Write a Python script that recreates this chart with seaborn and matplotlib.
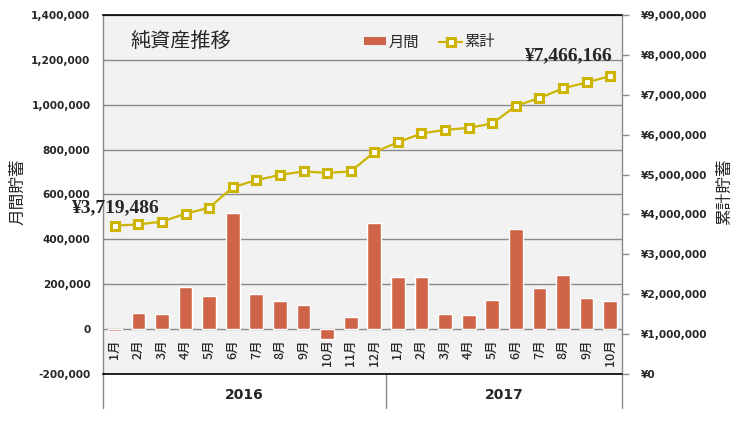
import numpy as np
import pandas as pd
import matplotlib
matplotlib.use('Agg')
import matplotlib.pyplot as plt
import seaborn as sns
from matplotlib.patches import Patch
from matplotlib.lines import Line2D
from matplotlib.ticker import FuncFormatter
import matplotlib.transforms as mtransforms

# ---- data ----
years = ['2016'] * 12 + ['2017'] * 10
months = ['1月', '2月', '3月', '4月', '5月', '6月', '7月', '8月', '9月', '10月', '11月', '12月',
          '1月', '2月', '3月', '4月', '5月', '6月', '7月', '8月', '9月', '10月']
monthly = [-8000, 71000, 67000, 187000, 147000, 517000, 156000, 125000, 107000, -45000, 53000, 472000,
           232000, 232000, 67000, 62000, 129000, 446000, 183000, 241000, 138000, 124000]
cumulative = [3719486, 3750000, 3820000, 4020000, 4170000, 4680000, 4860000, 4990000, 5080000, 5040000,
              5080000, 5560000, 5810000, 6030000, 6120000, 6170000, 6280000, 6720000, 6920000, 7160000,
              7310000, 7466166]
year_labels = ['2016', '2017']
title = '純資産推移'
series_names = ['月間', '累計']
left_label = '月間貯蓄'
right_label = '累計貯蓄'

df = pd.DataFrame({'key': [f'{y}-{m}' for y, m in zip(years, months)],
                   'idx': np.arange(len(months)),
                   'monthly': monthly, 'cumulative': cumulative})

BAR = '#D06449'
LINE = '#CCB400'
JP = ['Noto Sans CJK JP', 'DejaVu Sans']

sns.set_style('white')
plt.rcParams['font.family'] = ['DejaVu Sans', 'Noto Sans CJK JP']

fig = plt.figure(figsize=(7.43, 4.23), dpi=100)
ax = fig.add_axes([103 / 743, 49 / 423, 519 / 743, 359 / 423])
ax.set_facecolor('#F2F2F2')

sns.barplot(data=df, x='key', y='monthly', order=list(df['key']), color=BAR,
            width=0.58, saturation=1, ax=ax)
ax.set_ylim(-200000, 1400000)
ax.set_yticks(np.arange(-200000, 1400001, 200000))
ax.yaxis.set_major_formatter(FuncFormatter(lambda v, p: f'{int(v):,}'))
ax.grid(axis='y', color='#8A8A8A', lw=1)
ax.set_axisbelow(True)
ax.set_xlabel('')
ax.set_ylabel('')
ax.set_xticks([])
ax.tick_params(axis='y', length=0, pad=9, labelsize=7.6)
for lbl in ax.get_yticklabels():
    lbl.set_fontweight('bold')
for s in ['left', 'right']:
    ax.spines[s].set_color('#8A8A8A')
    ax.spines[s].set_linewidth(1)
ax.spines['top'].set_color('black')
ax.spines['bottom'].set_color('black')
ax.spines['top'].set_linewidth(1.2)
ax.spines['bottom'].set_linewidth(1.2)
ax.set_xlim(-0.5, len(months) - 0.5)

# month labels inside the plot area
trans = mtransforms.blended_transform_factory(ax.transData, ax.transAxes)
for i, m in enumerate(months):
    ax.text(i, 0.096, m, rotation=90, ha='center', va='top', fontsize=9,
            family=JP, fontweight='medium', transform=trans)

# year group separators and labels
for xpos in [-0.5, 11.5, len(months) - 0.5]:
    ax.add_line(Line2D([xpos, xpos], [-0.095, 0], transform=trans, color='#8A8A8A',
                       lw=1, clip_on=False))
yrs = np.array(years)
for y in year_labels:
    pos = np.where(yrs == y)[0]
    ax.text((pos[0] + pos[-1]) / 2, -0.058, y, ha='center', va='center', fontsize=10,
            fontweight='bold', transform=trans)

# cumulative line on right axis
ax2 = ax.twinx()
sns.lineplot(data=df, x='idx', y='cumulative', color=LINE, lw=1.6, marker='s',
             markersize=5.5, markerfacecolor='white', markeredgecolor=LINE,
             markeredgewidth=2.2, ax=ax2)
ax2.set_ylim(0, 9000000)
ax2.set_yticks(np.arange(0, 9000001, 1000000))
ax2.yaxis.set_major_formatter(FuncFormatter(lambda v, p: f'¥{int(v):,}'))
ax2.tick_params(axis='y', length=5, width=1, color='#8A8A8A', pad=8.5, labelsize=7.6, right=True)
for lbl in ax2.get_yticklabels():
    lbl.set_fontweight('bold')
ax2.set_xlabel('')
ax2.set_ylabel('')
for s in ax2.spines.values():
    s.set_visible(False)
ax2.set_xlim(-0.5, len(months) - 0.5)

# annotations for first and last values
ax2.annotate(f'¥{cumulative[0]:,}', xy=(0, cumulative[0]), xytext=(44, 18),
             textcoords='offset pixels', ha='right', va='center', fontsize=14,
             fontweight='bold', family='Liberation Serif')
ax2.annotate(f'¥{cumulative[-1]:,}', xy=(len(cumulative) - 1, cumulative[-1]), xytext=(2, 20),
             textcoords='offset pixels', ha='right', va='center', fontsize=14,
             fontweight='bold', family='Liberation Serif')

# title and legend
ax2.text(0.052, 0.925, title, transform=ax2.transAxes, ha='left', va='center',
         fontsize=14.5, family=JP)
handles = [Patch(facecolor=BAR, edgecolor='none'),
           Line2D([], [], color=LINE, lw=1.6, marker='s', markersize=5.5, markerfacecolor='white',
                  markeredgecolor=LINE, markeredgewidth=2.2)]
leg = ax2.legend(handles, series_names, loc='center left', bbox_to_anchor=(0.502, 0.925),
                 ncol=2, frameon=False, prop={'family': JP, 'size': 11},
                 handlelength=1.5, handleheight=0.5, handletextpad=0.15, columnspacing=1.3,
                 borderaxespad=0, borderpad=0)

# axis titles
fig.text(18 / 743, 1 - 192 / 423, left_label, rotation=90, ha='center', va='center',
         fontsize=12, family=JP)
fig.text(725 / 743, 1 - 192 / 423, right_label, rotation=90, ha='center', va='center',
         fontsize=12, family=JP)

fig.savefig('out.png', dpi=100)
